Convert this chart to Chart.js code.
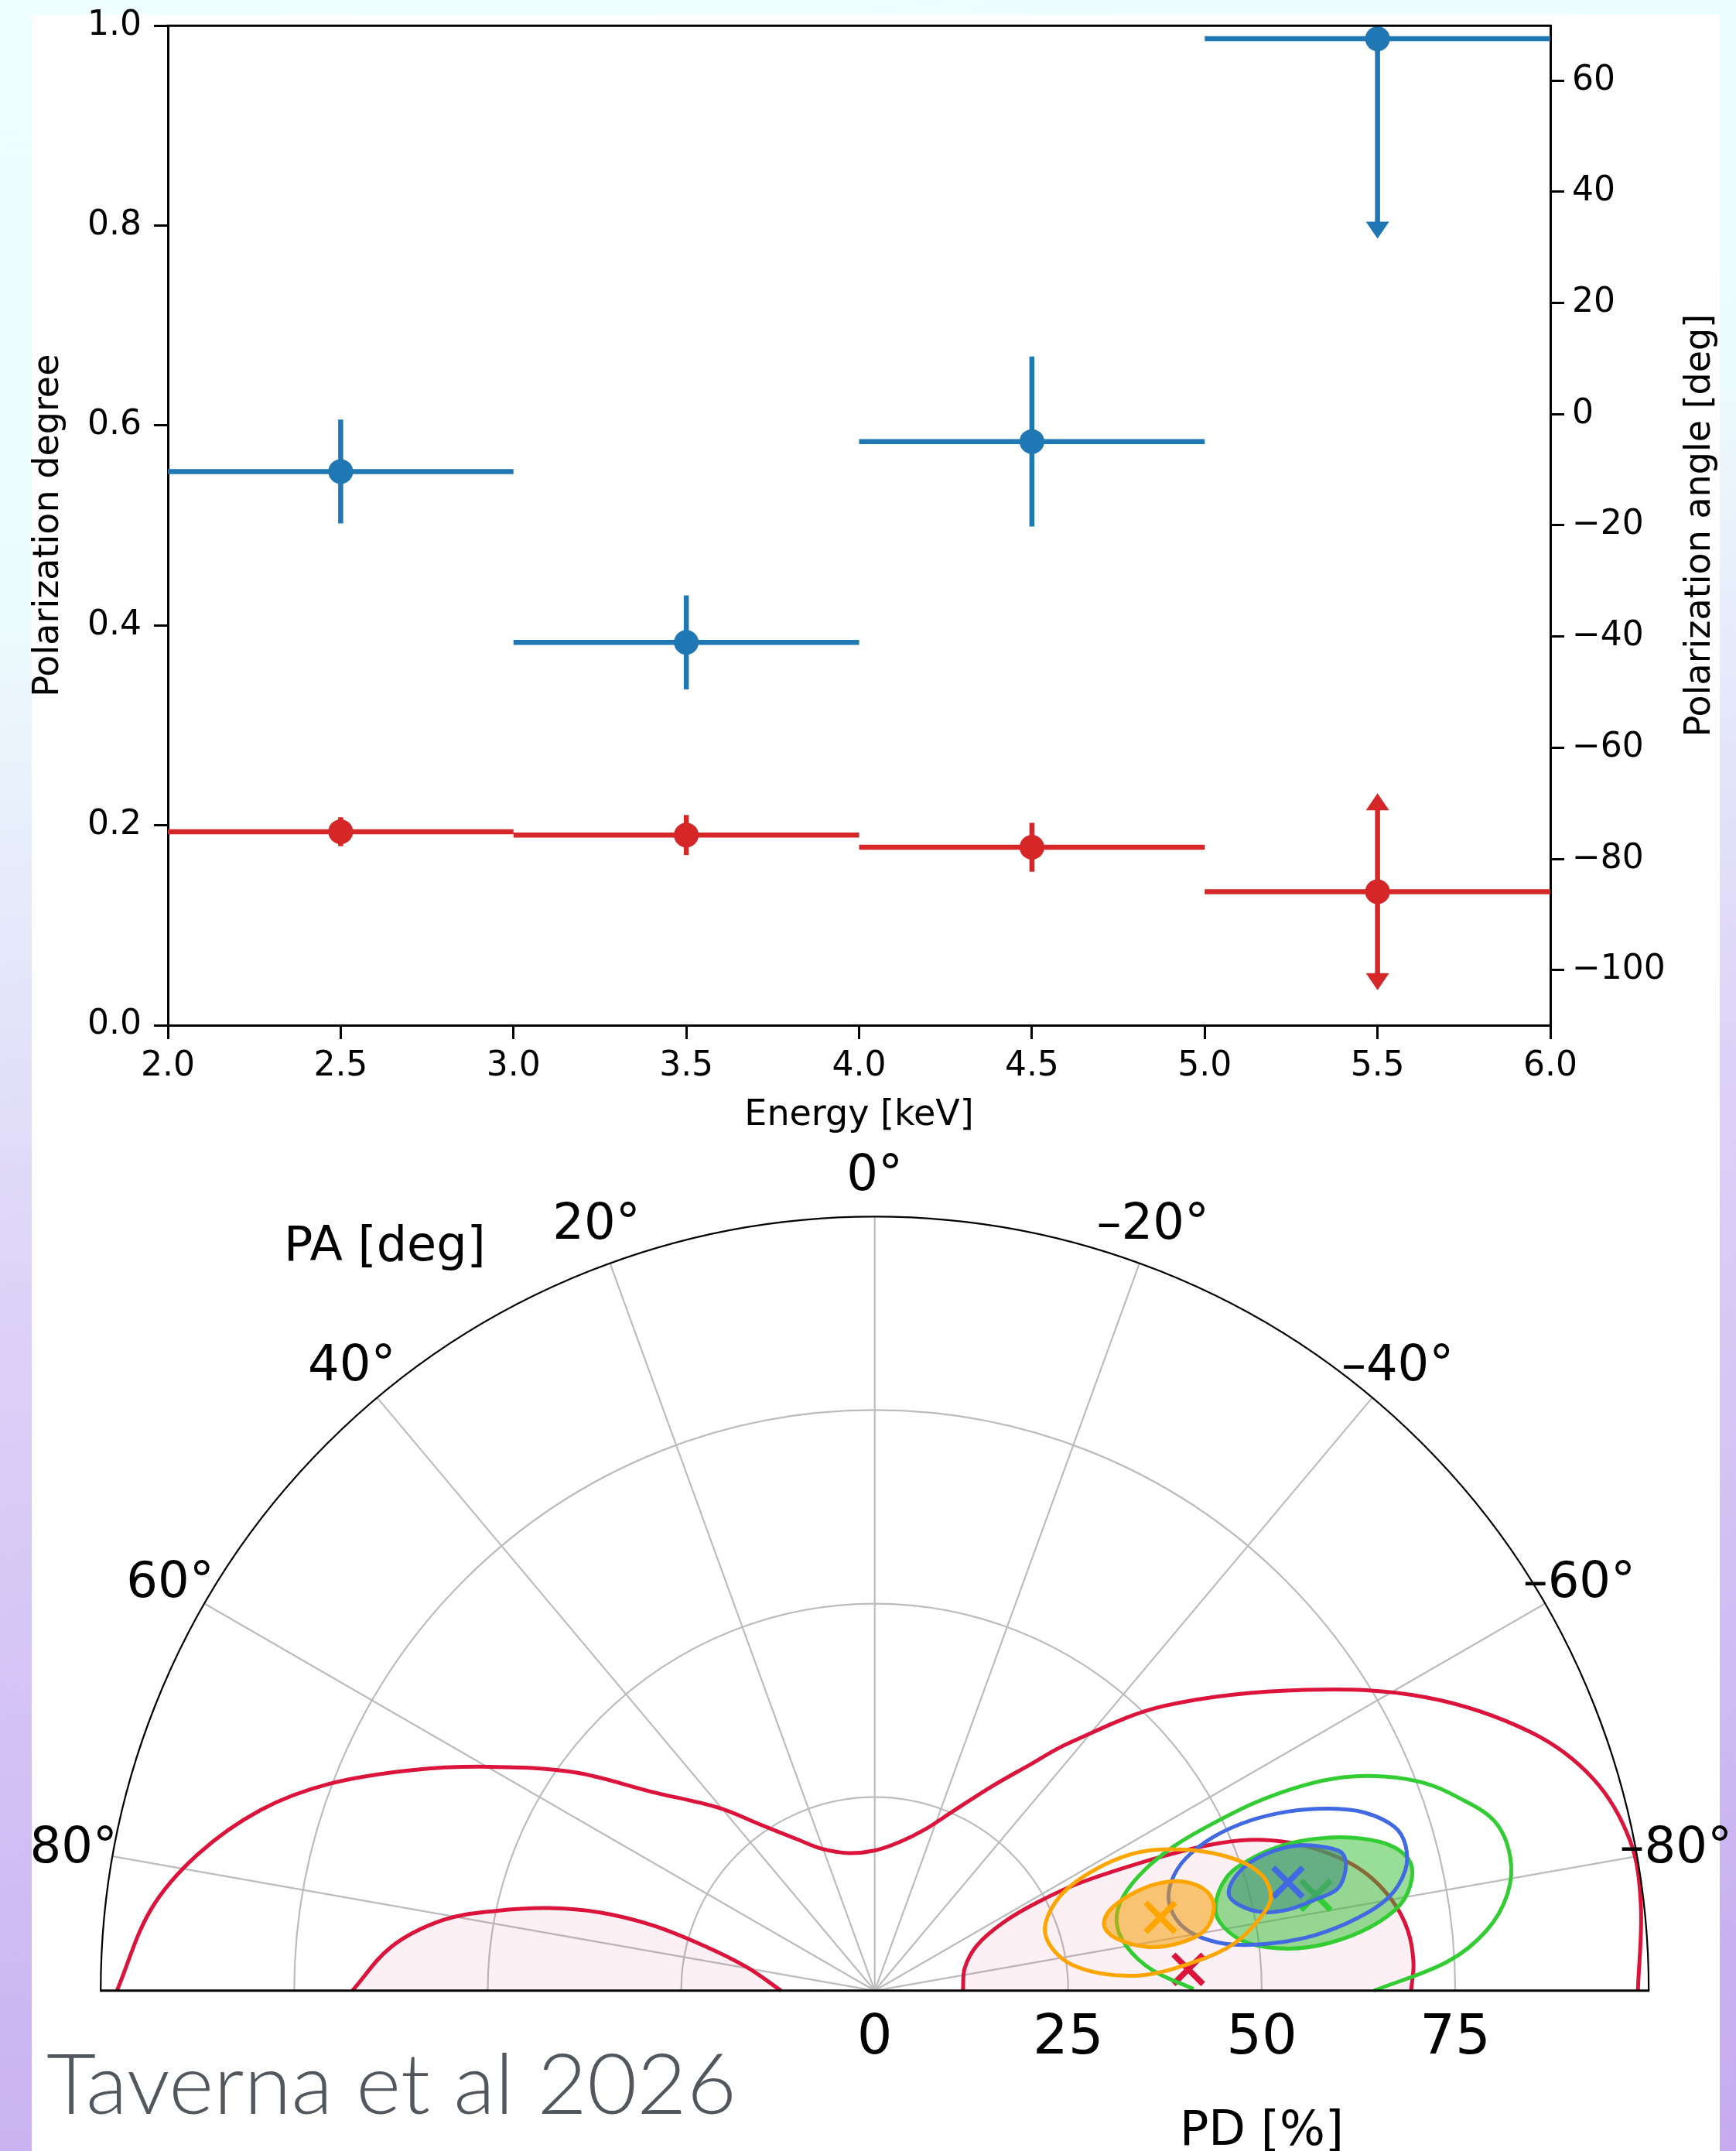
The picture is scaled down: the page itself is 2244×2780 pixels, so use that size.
<!DOCTYPE html>
<html>
<head>
<meta charset="utf-8">
<script src="https://cdn.jsdelivr.net/npm/chart.js@4.4.1/dist/chart.umd.min.js"></script>
<style>
	html, body { margin: 0; padding: 0; }
	body {
		width: 2244px; height: 2780px; position: relative; overflow: hidden;
		background: linear-gradient(172deg, #effefe 0%, #ecfbfd 26%, #dcd0f7 56%, #c5aaf0 100%);
	}
	#panel { position: absolute; left: 41px; top: 19px; width: 2182px; height: 2761px; background: #fff; }
	#spectrum { position: absolute; left: 0; top: 0; }
	#polar { position: absolute; left: 0; top: 1480px; }
</style>
</head>
<body>
<div id="panel"></div>
<canvas id="spectrum" width="2244" height="1480"></canvas>
<canvas id="polar" width="2244" height="1300"></canvas>
<script>
//energy resolved polarization
const energyBins = [2.5, 3.5, 4.5, 5.5]
const binHalfWidth = [0.5, 0.5, 0.5, 0.5]
const pdValues = [0.554, 0.383, 0.584, 0.987]
const pdErrors = [0.052, 0.047, 0.085, 0.2]
const pdUpperLimit = [false, false, false, true]
const paValues = [-75.1, -75.7, -77.9, -85.9]
const paErrors = [2.6, 3.6, 4.4, 17.7]
const paUnbounded = [false, false, false, true]

const energyTicks = [2.0, 2.5, 3.0, 3.5, 4.0, 4.5, 5.0, 5.5, 6.0]
const pdTicks = [0.0, 0.2, 0.4, 0.6, 0.8, 1.0]
const paTicks = [-100, -80, -60, -40, -20, 0, 20, 40, 60]
const paRange = [-109.9, 69.85]

//polar plane: contours as [PA deg, PD %]
const polarGridPD = [25, 50, 75]
const pdLimit = 100
const polarGridPA = [80, 60, 40, 20, 0, -20, -40, -60, -80]
const pdTickLabels = [0, 25, 50, 75]

const redOuter = [[90, 97.9], [83.6, 94.1], [78.6, 89.2], [73.6, 82.7], [69.3, 75.5], [64.5, 66.2], [59.8, 57.5], [54.0, 48.0], [48.2, 38.5], [40.4, 31.0], [34.9, 26.3], [27.2, 22.0], [20.2, 19.5], [10.8, 18.1], [0.2, 18.1], [-9.6, 19.5], [-17.5, 21.9], [-23.3, 25.1], [-29.6, 30.2], [-34.4, 35.3], [-38.0, 40.5], [-45.5, 52.5], [-55.1, 67.9], [-62.0, 80.7], [-68.5, 91.1], [-73.6, 96.8], [-78.8, 99.5], [-83.6, 99.6], [-90, 98.6]]
const redInnerLeft = [[90, 67.5], [84.8, 62.7], [80.7, 56.5], [78.1, 50.0], [75.8, 43.5], [74.1, 36.9], [73.6, 29.9], [75.3, 22.7], [79.6, 16.8], [90, 12.1]]
const redInnerRight = [[-90, 11.4], [-75.8, 12.0], [-66.0, 14.5], [-62.0, 19.0], [-61.5, 24.0], [-62.3, 30.0], [-64.7, 39.8], [-66.4, 46.9], [-68.0, 52.0], [-70.3, 56.8], [-73.2, 61.3], [-76.4, 65.1], [-80.0, 67.8], [-83.5, 69.3], [-87.0, 69.7], [-90, 69.3]]
const orangeOuter = [[-72.0, 23.2], [-82.5, 25.7], [-86.7, 33.6], [-84.9, 41.4], [-82.5, 46.9], [-79.1, 50.9], [-76.7, 52.6], [-73.4, 52.2], [-69.9, 49.5], [-65.6, 44.1], [-62.1, 37.9], [-61.3, 31.0], [-63.9, 26.0]]
const orangeInner = [[-74.1, 30.8], [-77.6, 31.8], [-80.9, 35.7], [-81.1, 39.9], [-79.7, 43.3], [-76.3, 45.1], [-73.4, 44.8], [-70.7, 42.5], [-69.3, 39.2], [-69.4, 35.4], [-71.1, 32.1]]
const blueOuter = [[-73.3, 39.7], [-77.7, 40.4], [-80.8, 42.8], [-82.7, 46.8], [-83.2, 52.1], [-82.8, 57.4], [-81.5, 62.9], [-79.7, 67.5], [-77.2, 70.3], [-74.7, 71.1], [-72.5, 70.4], [-70.0, 67.3], [-68.2, 63.3], [-66.6, 58.3], [-65.6, 53.0], [-65.6, 48.0], [-67.0, 43.6], [-69.7, 40.9]]
const blueInner = [[-74.8, 47.4], [-76.8, 48.4], [-78.5, 51.0], [-78.9, 54.5], [-78.3, 58.2], [-77.6, 61.2], [-75.6, 62.8], [-73.7, 63.0], [-72.6, 61.6], [-71.2, 58.3], [-70.7, 54.8], [-71.1, 51.4], [-72.6, 48.7]]
const greenOuter = [[-89.7, 41.2], [-85.8, 36.0], [-79.9, 33.0], [-74.0, 32.5], [-69.3, 34.3], [-65.9, 38.2], [-64.2, 43.1], [-63.7, 48.7], [-63.7, 55.0], [-64.4, 61.3], [-65.5, 66.5], [-67.2, 71.4], [-69.3, 75.9], [-71.6, 79.3], [-74.7, 83.0], [-78.1, 83.9], [-81.3, 82.7], [-84.4, 79.4], [-87.1, 74.1], [-90, 64.5]]
const greenInner = [[-76.3, 45.3], [-79.6, 45.8], [-82.7, 48.6], [-84.2, 53.8], [-84.0, 59.1], [-82.7, 64.5], [-80.7, 68.8], [-78.2, 70.9], [-76.1, 71.0], [-74.0, 68.8], [-72.2, 64.7], [-71.0, 60.3], [-70.4, 56.0], [-70.7, 51.5], [-72.2, 47.7]]

const redBest = [-86.1, 40.6]
const orangeBest = [-75.6, 38.1]
const greenBest = [-77.8, 58.3]
const blueBest = [-75.3, 55.2]

const minus = (v) => v < 0 ? '\u2212' + Math.abs(v) : String(v)

//---------------- top panel ----------------
const errorBars = {
	id: 'errorBars',
	beforeDatasetDraw(chart, args) {
		const ds = chart.data.datasets[args.index]
		const ctx = chart.ctx
		const xs = chart.scales.x
		const ys = chart.scales[ds.yAxisID]
		const arrow = (px, tip, dir) => {
			ctx.beginPath()
			ctx.moveTo(px, tip)
			ctx.lineTo(px - 15, tip - dir * 22)
			ctx.lineTo(px + 15, tip - dir * 22)
			ctx.closePath()
			ctx.fill()
		}
		ctx.save()
		ctx.strokeStyle = ds.borderColor
		ctx.fillStyle = ds.borderColor
		ctx.lineWidth = 6.5
		ds.data.forEach((p, i) => {
			const px = xs.getPixelForValue(p.x)
			const py = ys.getPixelForValue(p.y)
			ctx.beginPath()
			ctx.moveTo(xs.getPixelForValue(p.x - ds.xErr[i]), py)
			ctx.lineTo(xs.getPixelForValue(p.x + ds.xErr[i]), py)
			ctx.stroke()
			const lo = ys.getPixelForValue(p.y - ds.yErr[i])
			const hi = ys.getPixelForValue(p.y + ds.yErr[i])
			ctx.beginPath()
			if (ds.upperLimit[i]) {
				ctx.moveTo(px, py)
				ctx.lineTo(px, lo - 20)
				ctx.stroke()
				arrow(px, lo, 1)
			} else if (ds.unbounded[i]) {
				ctx.moveTo(px, hi + 20)
				ctx.lineTo(px, lo - 20)
				ctx.stroke()
				arrow(px, hi, -1)
				arrow(px, lo, 1)
			} else {
				ctx.moveTo(px, hi)
				ctx.lineTo(px, lo)
				ctx.stroke()
			}
		})
		ctx.restore()
	}
}

const frameAndTitles = {
	id: 'frameAndTitles',
	afterDraw(chart) {
		const { ctx, chartArea: a } = chart
		ctx.save()
		ctx.strokeStyle = '#000'
		ctx.lineWidth = 3
		ctx.beginPath()
		ctx.moveTo(a.left - 1.5, a.top)
		ctx.lineTo(a.right + 1.5, a.top)
		ctx.stroke()
		ctx.fillStyle = '#000'
		ctx.font = "46px 'DejaVu Sans'"
		ctx.textAlign = 'center'
		ctx.textBaseline = 'middle'
		const midY = (a.top + a.bottom) / 2
		ctx.fillText('Energy [keV]', (a.left + a.right) / 2, a.bottom + 117)
		ctx.save()
		ctx.translate(a.left - 154, midY)
		ctx.rotate(-Math.PI / 2)
		ctx.fillText('Polarization degree', 0, 0)
		ctx.restore()
		ctx.save()
		ctx.translate(a.right + 194, midY)
		ctx.rotate(-Math.PI / 2)
		ctx.fillText('Polarization angle [deg]', 0, 0)
		ctx.restore()
		ctx.restore()
	}
}

const tickFont = { family: "'DejaVu Sans'", size: 44 }
const axisStyle = (extra) => Object.assign({
	type: 'linear',
	grid: { display: true, drawOnChartArea: false, drawTicks: true, tickLength: 18, tickWidth: 3, tickColor: '#000', lineWidth: 3, color: '#000' },
	border: { display: true, color: '#000', width: 3 }
}, extra)

// fixed axis boxes so the frame lands where it should, labels may overhang
const fixWidth = (w) => (s) => { s.width = w; s.paddingTop = 0; s.paddingBottom = 0 }

new Chart(document.getElementById('spectrum'), {
	type: 'scatter',
	data: {
		datasets: [
			{
				label: 'Polarization degree',
				data: energyBins.map((e, i) => ({ x: e, y: pdValues[i] })),
				yAxisID: 'y',
				xErr: binHalfWidth, yErr: pdErrors, upperLimit: pdUpperLimit, unbounded: [false, false, false, false],
				borderColor: '#1f77b4', backgroundColor: '#1f77b4',
				pointRadius: 16, pointBorderWidth: 0, order: 2
			},
			{
				label: 'Polarization angle',
				data: energyBins.map((e, i) => ({ x: e, y: paValues[i] })),
				yAxisID: 'yPA',
				xErr: binHalfWidth, yErr: paErrors, upperLimit: [false, false, false, false], unbounded: paUnbounded,
				borderColor: '#d62728', backgroundColor: '#d62728',
				pointRadius: 16, pointBorderWidth: 0, order: 1
			}
		]
	},
	options: {
		responsive: false,
		animation: false,
		events: [],
		layout: { padding: { top: 33.3, left: 0, right: 0, bottom: 0 } },
		plugins: { legend: { display: false }, tooltip: { enabled: false } },
		scales: {
			x: axisStyle({
				position: 'bottom', min: 2, max: 6,
				ticks: { font: tickFont, color: '#000', padding: 9, maxRotation: 0, minRotation: 0, autoSkip: false, callback: (v) => v.toFixed(1) },
				afterBuildTicks: (s) => { s.ticks = energyTicks.map((v) => ({ value: v })) },
				afterFit: (s) => { s.height = 155; s.paddingLeft = 0; s.paddingRight = 0 }
			}),
			y: axisStyle({
				position: 'left', min: 0, max: 1,
				ticks: { font: tickFont, color: '#000', padding: 16, autoSkip: false, callback: (v) => v.toFixed(1) },
				afterBuildTicks: (s) => { s.ticks = pdTicks.map((v) => ({ value: v })) },
				afterFit: fixWidth(217)
			}),
			yPA: axisStyle({
				position: 'right', min: paRange[0], max: paRange[1],
				ticks: { font: tickFont, color: '#000', padding: 10, autoSkip: false, callback: (v) => minus(v) },
				afterBuildTicks: (s) => { s.ticks = paTicks.map((v) => ({ value: v })) },
				afterFit: fixWidth(240)
			})
		}
	},
	plugins: [errorBars, frameAndTitles]
})

//---------------- polar panel ----------------
const toXY = (pa, pd) => ({ x: -pd * Math.sin(pa * Math.PI / 180), y: pd * Math.cos(pa * Math.PI / 180) })

// line charts have no closed-curve option, so flag the ellipses as loops after update
const closedContours = {
	id: 'closedContours',
	afterDatasetsUpdate(chart) {
		chart.data.datasets.forEach((ds, i) => {
			if (!ds.loop) return
			const line = chart.getDatasetMeta(i).dataset
			if (!line) return
			line._loop = true
			line._fullLoop = true
			line._pointsUpdated = false
			delete line._segments
			delete line._path
		})
	}
}

const polarFrame = {
	id: 'polarFrame',
	beforeDatasetsDraw(chart) {
		const { ctx, scales: { x, y } } = chart
		const cx = x.getPixelForValue(0), cy = y.getPixelForValue(0)
		ctx.save()
		ctx.strokeStyle = '#bcbcbc'
		ctx.lineWidth = 2.2
		polarGridPD.forEach((pd) => {
			ctx.beginPath()
			ctx.arc(cx, cy, x.getPixelForValue(pd) - cx, Math.PI, 2 * Math.PI)
			ctx.stroke()
		})
		polarGridPA.forEach((pa) => {
			const p = toXY(pa, pdLimit)
			ctx.beginPath()
			ctx.moveTo(cx, cy)
			ctx.lineTo(x.getPixelForValue(p.x), y.getPixelForValue(p.y))
			ctx.stroke()
		})
		ctx.restore()
	},
	afterDatasetsDraw(chart) {
		const { ctx, scales: { x, y } } = chart
		const cx = x.getPixelForValue(0), cy = y.getPixelForValue(0)
		const R = x.getPixelForValue(pdLimit) - cx
		ctx.save()
		ctx.strokeStyle = '#000'
		ctx.lineWidth = 2.2
		ctx.beginPath()
		ctx.arc(cx, cy, R, Math.PI, 2 * Math.PI)
		ctx.stroke()
		ctx.lineWidth = 3
		ctx.beginPath()
		ctx.moveTo(cx - R - 1, cy)
		ctx.lineTo(cx + R + 1, cy)
		ctx.stroke()

		ctx.fillStyle = '#000'
		ctx.textAlign = 'center'
		ctx.textBaseline = 'middle'
		ctx.font = "64px 'DejaVu Sans'"
		polarGridPA.forEach((pa) => {
			const p = toXY(pa, 105.1)
			const label = (pa < 0 ? '\u2013' + Math.abs(pa) : String(pa)) + '\u00b0'
			ctx.fillText(label, x.getPixelForValue(p.x), y.getPixelForValue(p.y))
		})
		ctx.font = "62px 'DejaVu Sans'"
		ctx.fillText('PA [deg]', x.getPixelForValue(-63.3), y.getPixelForValue(95.9))

		ctx.textBaseline = 'alphabetic'
		ctx.font = "72px 'DejaVu Sans'"
		pdTickLabels.forEach((v) => ctx.fillText(String(v), x.getPixelForValue(v), cy + 81))
		ctx.font = "62px 'DejaVu Sans'"
		ctx.fillText('PD [%]', x.getPixelForValue(50), cy + 199)

		//credit line
		ctx.textAlign = 'left'
		ctx.fillStyle = '#52575d'
		ctx.font = "300 108px Lato, Inter, sans-serif"
		const credit = 'Taverna et al 2026'
		const w = ctx.measureText(credit).width
		ctx.translate(60, cy + 159)
		ctx.scale(892 / w, 1)
		ctx.fillText(credit, 0, 0)
		ctx.restore()
	}
}

const contour = (points, color, extra) => Object.assign({
	data: points.map(([pa, pd]) => toXY(pa, pd)),
	borderColor: color, borderWidth: 5,
	pointRadius: 0, tension: 0.35, capBezierPoints: false,
	fill: false, clip: 12
}, extra)

const bestFit = ([pa, pd], color) => ({
	data: [toXY(pa, pd)],
	showLine: false,
	pointStyle: 'crossRot', pointRadius: 27, pointBorderWidth: 7.5,
	pointBorderColor: color, borderColor: color, backgroundColor: color, clip: 30
})

//listed from bottom layer to top layer
const polarSets = [
	contour(redOuter, '#dc143c'),
	contour(redInnerLeft, '#dc143c', { fill: 'shape', backgroundColor: 'rgba(214, 60, 130, 0.08)' }),
	contour(redInnerRight, '#dc143c', { fill: 'shape', backgroundColor: 'rgba(214, 60, 130, 0.08)' }),
	bestFit(redBest, '#dc143c'),
	contour(greenInner, '#32cd32', { loop: true, fill: 'shape', backgroundColor: 'rgba(50, 190, 50, 0.5)' }),
	contour(greenOuter, '#32cd32'),
	bestFit(greenBest, '#32cd32'),
	contour(blueInner, '#4169e1', { loop: true, fill: 'shape', backgroundColor: 'rgba(70, 149, 123, 0.6)' }),
	contour(blueOuter, '#4169e1', { loop: true }),
	bestFit(blueBest, '#4169e1'),
	contour(orangeOuter, '#ffa500', { loop: true }),
	contour(orangeInner, '#ffa500', { loop: true, fill: 'shape', backgroundColor: 'rgba(245, 160, 10, 0.55)' }),
	bestFit(orangeBest, '#ffa500')
]
polarSets.forEach((ds, i) => { ds.order = polarSets.length - i })

new Chart(document.getElementById('polar'), {
	type: 'line',
	data: { datasets: polarSets },
	options: {
		responsive: false,
		animation: false,
		events: [],
		layout: { padding: { left: 130.2, right: 112.8, top: 92.3, bottom: 207.2 } },
		plugins: { legend: { display: false }, tooltip: { enabled: false } },
		scales: {
			x: { type: 'linear', min: -pdLimit, max: pdLimit, display: false },
			y: { type: 'linear', min: 0, max: pdLimit, display: false }
		}
	},
	plugins: [closedContours, polarFrame]
})
</script>
</body>
</html>
